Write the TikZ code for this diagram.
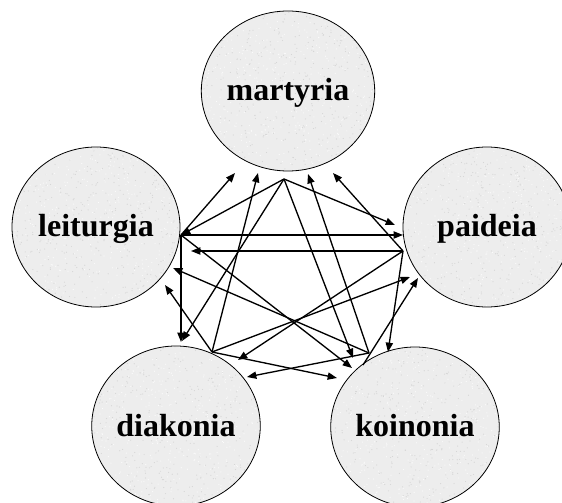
\documentclass[tikz,border=0pt]{standalone}
\usepackage{fontspec}
\setmainfont{Liberation Serif}
\usetikzlibrary{arrows.meta,shapes.geometric,calc}
\begin{document}
\begin{tikzpicture}[x=0.75pt, y=-0.75pt,
    speckle/.style={path picture={
        \foreach \i in {1,...,450} {
          \fill[gray!32] ($(path picture bounding box.center)+(rand*66pt,rand*62pt)$) circle (0.45pt);
          \fill[white!70!gray!10] ($(path picture bounding box.center)+(rand*66pt,rand*62pt)$) circle (0.45pt);
        }}},
    area/.style={draw, line width=0.6pt, ellipse, fill=gray!14, speckle,
        minimum width=126pt, minimum height=120pt, inner sep=0pt,
        text height=20pt, text depth=5pt,
        font=\fontsize{24}{28}\selectfont\bfseries},
    link/.style={-{Triangle[length=7pt,width=5.4pt]}, line width=1pt}]
  \pgfmathsetseed{11}
  \clip (0,0) rectangle (562,503);
  \node[area] (martyria) at (288,91) {martyria};
  \node[area] (leiturgia) at (96,227) {leiturgia};
  \node[area] (paideia) at (487,227) {paideia};
  \node[area] (diakonia) at (176,426) {diakonia};
  \node[area] (koinonia) at (415,427) {koinonia};
  \coordinate (mh) at (284,179);
  \coordinate (lh) at (181,235);
  \coordinate (ph) at (403,251);
  \coordinate (dh) at (212,352);
  \coordinate (kh) at (369,353);
  \coordinate (kh2) at (363,365);
  \coordinate (mp) at (395,225);
  \coordinate (md) at (182,341);
  \coordinate (mk) at (353,358);
  \coordinate (lm) at (235,173);
  \coordinate (lp) at (403,235);
  \coordinate (ld) at (181,342);
  \coordinate (lk) at (352,368);
  \coordinate (pm) at (333,173);
  \coordinate (pl) at (191,251);
  \coordinate (pd) at (238,360);
  \coordinate (pk) at (388,352);
  \coordinate (dm) at (258,173);
  \coordinate (dl) at (165,285);
  \coordinate (dp) at (410,277);
  \coordinate (dk) at (337,378);
  \coordinate (km) at (308,174);
  \coordinate (kl) at (173,268);
  \coordinate (kp) at (418,278);
  \coordinate (kd) at (247,377);
  \foreach \a/\b in {mh/lh, mh/mp, mh/md, mh/mk, lh/lm, lh/lp, lh/ld, lh/lk,
      ph/pm, ph/pl, ph/pd, ph/pk, dh/dm, dh/dl, dh/dp, dh/dk,
      kh/km, kh/kl, kh2/kp, kh/kd}
    \draw[link] (\a) -- (\b);
\end{tikzpicture}
\end{document}
